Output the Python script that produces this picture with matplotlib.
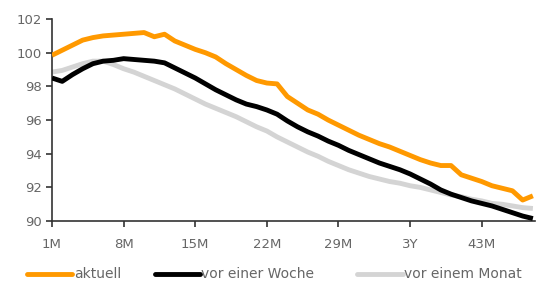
import matplotlib
matplotlib.use("Agg")
import matplotlib.pyplot as plt
from matplotlib.lines import Line2D

plt.rcParams['font.family'] = ['DejaVu Sans']

months = list(range(1, 49))
aktuell = [99.85, 100.15, 100.45, 100.75, 100.9, 101.0, 101.05, 101.1, 101.15, 101.2,
           100.95, 101.1, 100.7, 100.45, 100.2, 100.0, 99.75, 99.35, 99.0, 98.65,
           98.35, 98.2, 98.15, 97.4, 97.0, 96.6, 96.35, 96.0, 95.7, 95.4,
           95.1, 94.85, 94.6, 94.4, 94.15, 93.9, 93.65, 93.45, 93.3, 93.3,
           92.75, 92.55, 92.35, 92.1, 91.95, 91.8, 91.25, 91.5]
vor_woche = [98.5, 98.3, 98.7, 99.05, 99.35, 99.5, 99.55, 99.65, 99.6, 99.55,
             99.5, 99.4, 99.1, 98.8, 98.5, 98.15, 97.8, 97.5, 97.2, 96.95,
             96.8, 96.6, 96.35, 95.95, 95.6, 95.3, 95.05, 94.75, 94.5, 94.2,
             93.95, 93.7, 93.45, 93.25, 93.05, 92.8, 92.5, 92.2, 91.85, 91.6,
             91.4, 91.2, 91.05, 90.9, 90.7, 90.5, 90.3, 90.15]
vor_monat = [98.85, 98.95, 99.15, 99.35, 99.5, 99.5, 99.3, 99.05, 98.85, 98.6,
             98.35, 98.1, 97.85, 97.55, 97.25, 96.95, 96.7, 96.45, 96.2, 95.9,
             95.6, 95.35, 95.0, 94.7, 94.4, 94.1, 93.85, 93.55, 93.3, 93.05,
             92.85, 92.65, 92.5, 92.35, 92.25, 92.1, 92.0, 91.85, 91.7, 91.55,
             91.45, 91.3, 91.2, 91.05, 91.0, 90.9, 90.8, 90.75]
xtick_pos = [1, 8, 15, 22, 29, 36, 43]
xtick_labels = ["1M", "8M", "15M", "22M", "29M", "3Y", "43M"]
yticks = [90, 92, 94, 96, 98, 100, 102]
series_names = ["aktuell", "vor einer Woche", "vor einem Monat"]

colors = ["#FF9900", "#000000", "#D4D4D4"]

fig = plt.figure(figsize=(5.36, 2.89), dpi=100)
ax = fig.add_axes([0.097, 0.235, 0.901, 0.699])

ax.plot(months, vor_monat, color=colors[2], lw=3.5, solid_capstyle='butt', zorder=2)
ax.plot(months, vor_woche, color=colors[1], lw=3.5, solid_capstyle='butt', zorder=3)
ax.plot(months, aktuell, color=colors[0], lw=3.5, solid_capstyle='butt', zorder=4)

ax.set_xlim(1, 48.2)
ax.set_ylim(90, 102)
ax.set_xticks(xtick_pos)
ax.set_xticklabels(xtick_labels)
ax.set_yticks(yticks)
for s in ["top", "right"]:
    ax.spines[s].set_visible(False)
for s in ["left", "bottom"]:
    ax.spines[s].set_color("#333333")
    ax.spines[s].set_linewidth(1.2)
ax.tick_params(axis='both', colors="#333333", labelcolor="#666666", labelsize=9.5,
               width=1.2, direction='out')
ax.tick_params(axis='y', length=4, pad=3)
ax.tick_params(axis='x', length=4.5, pad=8)

# legend
leg_y = 1 - 274 / 289
entries = [(27, 72, 74), (155, 200, 201), (357, 403, 404)]
for (x0, x1, xt), c, name in zip(entries, colors, series_names):
    fig.add_artist(Line2D([x0 / 536, x1 / 536], [leg_y, leg_y], color=c, lw=3.5,
                          solid_capstyle='round', transform=fig.transFigure))
    fig.text(xt / 536, leg_y, name, ha='left', va='center', fontsize=10, color="#666666")

fig.savefig("out.png", dpi=100)
